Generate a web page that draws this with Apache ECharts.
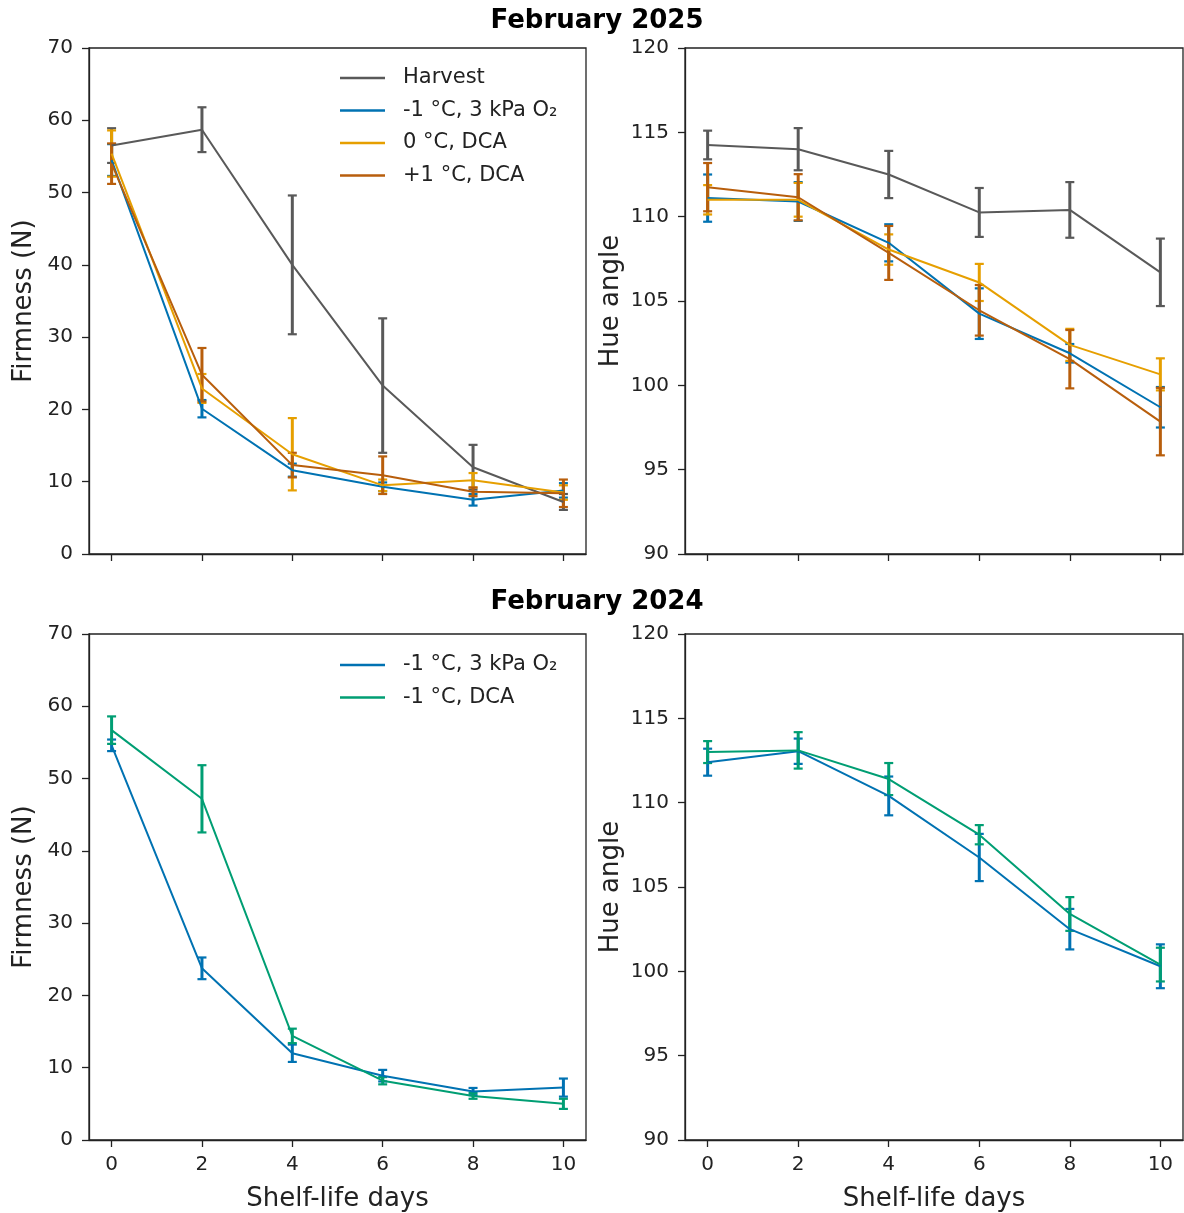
<!DOCTYPE html>
<html>
<head>
<meta charset="utf-8">
<script src="https://cdn.jsdelivr.net/npm/echarts@6/dist/echarts.min.js"></script>
<style>
  html, body { margin: 0; padding: 0; background: #fff; }
  #chart { width: 1184px; height: 1213px; }
</style>
</head>
<body>
<div id="chart"></div>
<script>
// Shelf-life sampling days
const days = [0, 2, 4, 6, 8, 10];
const dayTicks = [0, 2, 4, 6, 8, 10];

// Series labels
const labelHarvest = 'Harvest';
const labelLowO2 = '-1 °C, 3 kPa O₂';
const labelDca0 = '0 °C, DCA';
const labelDcaPlus1 = '+1 °C, DCA';
const labelDcaMinus1 = '-1 °C, DCA';

// February 2025 – firmness (N), mean and error
const firm25Harvest = [56.5, 58.7, 40.0, 23.3, 12.0, 7.2];
const firm25HarvestErr = [2.4, 3.1, 9.6, 9.3, 3.1, 1.1];
const firm25LowO2 = [54.5, 20.1, 11.6, 9.3, 7.5, 8.8];
const firm25LowO2Err = [2.2, 1.2, 0.9, 0.6, 0.8, 1.0];
const firm25Dca0 = [55.4, 22.9, 13.8, 9.5, 10.2, 8.5];
const firm25Dca0Err = [3.2, 2.0, 5.0, 0.8, 1.0, 1.0];
const firm25DcaPlus1 = [54.0, 24.8, 12.3, 10.9, 8.6, 8.4];
const firm25DcaPlus1Err = [2.8, 3.7, 1.7, 2.6, 0.6, 1.9];

// February 2025 – hue angle, mean and error
const hue25Harvest = [114.25, 114.0, 112.5, 110.25, 110.4, 106.7];
const hue25HarvestErr = [0.85, 1.25, 1.4, 1.45, 1.65, 2.0];
const hue25LowO2 = [111.1, 110.9, 108.45, 104.25, 101.9, 98.7];
const hue25LowO2Err = [1.4, 1.15, 1.1, 1.5, 0.55, 1.2];
const hue25Dca0 = [111.0, 111.0, 108.05, 106.1, 102.4, 100.65];
const hue25Dca0Err = [0.87, 1.0, 0.9, 1.1, 0.95, 0.95];
const hue25DcaPlus1 = [111.75, 111.15, 107.85, 104.45, 101.55, 97.85];
const hue25DcaPlus1Err = [1.43, 1.37, 1.6, 1.5, 1.73, 2.0];

// February 2024 – firmness (N), mean and error
const firm24LowO2 = [54.6, 23.75, 12.0, 8.9, 6.7, 7.25];
const firm24LowO2Err = [0.8, 1.5, 1.2, 0.8, 0.5, 1.25];
const firm24DcaMinus1 = [56.7, 47.2, 14.4, 8.2, 6.1, 5.0];
const firm24DcaMinus1Err = [1.9, 4.65, 1.0, 0.5, 0.4, 0.7];

// February 2024 – hue angle, mean and error
const hue24LowO2 = [112.4, 113.05, 110.4, 106.75, 102.5, 100.3];
const hue24LowO2Err = [0.8, 0.75, 1.15, 1.4, 1.2, 1.3];
const hue24DcaMinus1 = [113.0, 113.1, 111.4, 108.1, 103.4, 100.4];
const hue24DcaMinus1Err = [0.65, 1.08, 0.95, 0.57, 1.0, 1.0];

// Year headings
const heading2025 = 'February 2025';
const heading2024 = 'February 2024';

const colors = {
  harvest: '#595959',
  lowO2: '#0072B2',
  dca0: '#E69F00',
  dcaPlus1: '#B85E0C',
  dcaMinus1: '#009E73'
};

const FONT = 'DejaVu Sans, sans-serif';
const INK = '#222222';

function lineSeries(name, color, gridIdx, values) {
  return {
    type: 'line',
    name: name,
    xAxisIndex: gridIdx,
    yAxisIndex: gridIdx,
    data: days.map((d, i) => [d, values[i]]),
    symbol: 'none',
    showSymbol: false,
    color: color,
    lineStyle: { color: color, width: 2 },
    animation: false,
    silent: true
  };
}

function errorSeries(name, color, gridIdx, values, errs) {
  return {
    type: 'custom',
    name: name,
    xAxisIndex: gridIdx,
    yAxisIndex: gridIdx,
    data: days.map((d, i) => [d, values[i] - errs[i], values[i] + errs[i]]),
    encode: { x: 0, y: [1, 2] },
    animation: false,
    silent: true,
    renderItem: function (params, api) {
      const x = api.value(0);
      const top = api.coord([x, api.value(2)]);
      const bot = api.coord([x, api.value(1)]);
      const half = 4.5;
      const style = { stroke: color, lineWidth: 3, fill: null };
      const capStyle = { stroke: color, lineWidth: 2.2, fill: null };
      return {
        type: 'group',
        children: [
          { type: 'line', shape: { x1: top[0], y1: top[1], x2: bot[0], y2: bot[1] }, style: style },
          { type: 'line', shape: { x1: top[0] - half, y1: top[1], x2: top[0] + half, y2: top[1] }, style: capStyle },
          { type: 'line', shape: { x1: bot[0] - half, y1: bot[1], x2: bot[0] + half, y2: bot[1] }, style: capStyle }
        ]
      };
    }
  };
}

function withErrors(name, color, gridIdx, values, errs) {
  return [lineSeries(name, color, gridIdx, values), errorSeries(name, color, gridIdx, values, errs)];
}

const grids = [
  { left: 89, top: 48, width: 497, height: 506 },
  { left: 685, top: 48, width: 498, height: 506 },
  { left: 89, top: 634, width: 497, height: 506 },
  { left: 685, top: 634, width: 498, height: 506 }
].map(g => Object.assign({ show: true, borderColor: INK, borderWidth: 1.3, backgroundColor: 'transparent' }, g));

function xAxisFor(gridIdx, bottomRow) {
  return {
    type: 'value',
    gridIndex: gridIdx,
    min: -0.5,
    max: 10.5,
    axisLine: { show: true, onZero: false, lineStyle: { color: INK, width: 1.3 } },
    axisTick: { show: true, customValues: dayTicks, length: 7, lineStyle: { color: INK, width: 1.3 } },
    axisLabel: {
      show: bottomRow,
      customValues: dayTicks,
      fontSize: 20,
      fontFamily: FONT,
      color: INK,
      margin: 15
    },
    splitLine: { show: false },
    name: bottomRow ? 'Shelf-life days' : '',
    nameLocation: 'middle',
    nameGap: 46,
    nameTextStyle: { fontSize: 26, fontFamily: FONT, color: INK }
  };
}

function yAxisFor(gridIdx, min, max, interval, name, gap) {
  return {
    type: 'value',
    gridIndex: gridIdx,
    min: min,
    max: max,
    interval: interval,
    axisLine: { show: true, onZero: false, lineStyle: { color: INK, width: 1.3 } },
    axisTick: { show: true, length: 7, lineStyle: { color: INK, width: 1.3 } },
    axisLabel: { fontSize: 20, fontFamily: FONT, color: INK, margin: 16 },
    splitLine: { show: false },
    name: name,
    nameLocation: 'middle',
    nameRotate: 90,
    nameGap: gap,
    nameTextStyle: { fontSize: 26, fontFamily: FONT, color: INK }
  };
}

const series = [].concat(
  withErrors(labelHarvest, colors.harvest, 0, firm25Harvest, firm25HarvestErr),
  withErrors(labelLowO2, colors.lowO2, 0, firm25LowO2, firm25LowO2Err),
  withErrors(labelDca0, colors.dca0, 0, firm25Dca0, firm25Dca0Err),
  withErrors(labelDcaPlus1, colors.dcaPlus1, 0, firm25DcaPlus1, firm25DcaPlus1Err),

  withErrors(labelHarvest, colors.harvest, 1, hue25Harvest, hue25HarvestErr),
  withErrors(labelLowO2, colors.lowO2, 1, hue25LowO2, hue25LowO2Err),
  withErrors(labelDca0, colors.dca0, 1, hue25Dca0, hue25Dca0Err),
  withErrors(labelDcaPlus1, colors.dcaPlus1, 1, hue25DcaPlus1, hue25DcaPlus1Err),

  withErrors(labelLowO2, colors.lowO2, 2, firm24LowO2, firm24LowO2Err),
  withErrors(labelDcaMinus1, colors.dcaMinus1, 2, firm24DcaMinus1, firm24DcaMinus1Err),

  withErrors(labelLowO2, colors.lowO2, 3, hue24LowO2, hue24LowO2Err),
  withErrors(labelDcaMinus1, colors.dcaMinus1, 3, hue24DcaMinus1, hue24DcaMinus1Err)
);

function legendAt(top, names) {
  return {
    orient: 'vertical',
    left: 340,
    top: top,
    padding: 0,
    itemGap: 8.5,
    itemWidth: 45,
    itemHeight: 2.4,
    icon: 'rect',
    selectedMode: false,
    data: names,
    textStyle: { fontSize: 21, fontFamily: FONT, color: INK, lineHeight: 24, padding: [0, 0, 0, 13] }
  };
}

const chart = echarts.init(document.getElementById('chart'), null, { renderer: 'canvas' });
chart.setOption({
  backgroundColor: '#ffffff',
  animation: false,
  textStyle: { fontFamily: FONT },
  grid: grids,
  xAxis: [xAxisFor(0, false), xAxisFor(1, false), xAxisFor(2, true), xAxisFor(3, true)],
  yAxis: [
    yAxisFor(0, 0, 70, 10, 'Firmness (N)', 52),
    yAxisFor(1, 90, 120, 5, 'Hue angle', 61),
    yAxisFor(2, 0, 70, 10, 'Firmness (N)', 52),
    yAxisFor(3, 90, 120, 5, 'Hue angle', 61)
  ],
  legend: [
    legendAt(66, [labelHarvest, labelLowO2, labelDca0, labelDcaPlus1]),
    legendAt(653, [labelLowO2, labelDcaMinus1])
  ],
  graphic: [
    { type: 'text', x: 597, y: 21, style: { text: heading2025, font: 'bold 26px DejaVu Sans, sans-serif', fill: '#000', align: 'center', verticalAlign: 'middle' } },
    { type: 'text', x: 597, y: 602, style: { text: heading2024, font: 'bold 26px DejaVu Sans, sans-serif', fill: '#000', align: 'center', verticalAlign: 'middle' } }
  ],
  series: series
});
</script>
</body>
</html>
